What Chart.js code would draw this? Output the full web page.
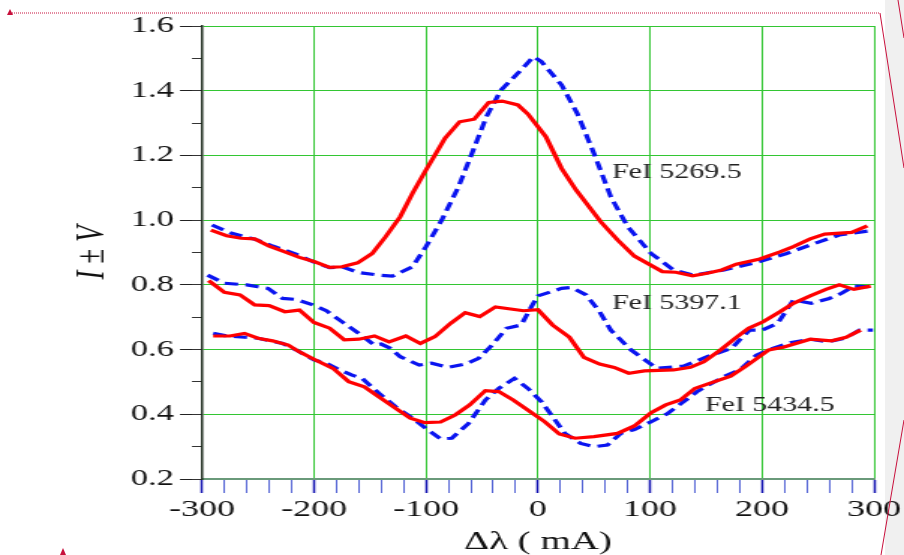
<!DOCTYPE html>
<html>
<head>
<meta charset="utf-8">
<script src="https://cdn.jsdelivr.net/npm/chart.js@4.4.1/dist/chart.umd.min.js"></script>
<style>
    body { margin: 0; background: #fff; }
    #page { position: relative; width: 904px; height: 555px; overflow: hidden; background: #fff; }
    #strip { position: absolute; left: 885px; top: 0; width: 19px; height: 555px; background: #f0f0f0; }
    #wrap { position: absolute; left: 0; top: 0; width: 603px; height: 555px; transform: scaleX(1.4992); transform-origin: 0 0; }
    #deco { position: absolute; left: 0; top: 0; }
</style>
</head>
<body>
<div id="page">
    <div id="strip"></div>
    <div id="wrap"><canvas id="myChart" width="603" height="555"></canvas></div>
    <svg id="deco" width="904" height="555">
        <line x1="10" y1="13" x2="880" y2="13" stroke="#c8103c" stroke-width="1" stroke-dasharray="1 1" />
        <polygon points="7,15 10,9 13,15" fill="#c8103c" />
        <line x1="880" y1="13" x2="904" y2="168" stroke="#c8103c" stroke-width="1" />
        <line x1="898" y1="0" x2="904" y2="38" stroke="#c8103c" stroke-width="1" />
        <line x1="881" y1="555" x2="904" y2="420" stroke="#c8103c" stroke-width="1" />
        <polygon points="60,555 63,548 66,555" fill="#c8103c" />
    </svg>
</div>
<script>

// FeI 5269.5
var x5269Red = [-292, -278, -265, -253, -240, -226, -213, -200, -186, -175, -161, -148, -136, -123, -112, -100, -83, -70, -57, -44, -32, -18, -9, 7, 21, 34, 56, 71, 86, 111, 123, 138, 151, 164, 177, 198, 216, 228, 243, 256, 280, 294];
var y5269Red = [0.969, 0.952, 0.944, 0.942, 0.920, 0.902, 0.885, 0.872, 0.854, 0.856, 0.868, 0.897, 0.949, 1.011, 1.083, 1.155, 1.253, 1.304, 1.312, 1.364, 1.368, 1.356, 1.328, 1.258, 1.160, 1.093, 0.995, 0.939, 0.889, 0.841, 0.839, 0.828, 0.836, 0.846, 0.864, 0.880, 0.902, 0.918, 0.942, 0.957, 0.962, 0.982];
var x5269Blue = [-291, -275, -251, -237, -216, -201, -186, -175, -160, -142, -130, -112, -100, -86, -71, -59, -46, -33, -18, -4, 3, 21, 35, 50, 65, 80, 101, 121, 139, 166, 198, 222, 251, 269, 296];
var y5269Blue = [0.985, 0.961, 0.939, 0.920, 0.895, 0.872, 0.853, 0.856, 0.838, 0.830, 0.827, 0.856, 0.918, 1.000, 1.103, 1.206, 1.320, 1.402, 1.454, 1.505, 1.490, 1.418, 1.330, 1.206, 1.072, 0.980, 0.897, 0.846, 0.830, 0.846, 0.872, 0.897, 0.933, 0.954, 0.967];

// FeI 5397.1
var x5397Red = [-294, -280, -266, -253, -240, -226, -213, -200, -186, -173, -160, -146, -133, -118, -105, -92, -78, -65, -52, -38, -13, 0, 13, 28, 41, 55, 68, 81, 95, 121, 136, 148, 163, 176, 188, 201, 216, 228, 243, 257, 269, 282, 297];
var y5397Red = [0.813, 0.777, 0.769, 0.738, 0.736, 0.717, 0.722, 0.684, 0.666, 0.630, 0.632, 0.642, 0.624, 0.642, 0.619, 0.640, 0.681, 0.714, 0.702, 0.732, 0.720, 0.723, 0.676, 0.638, 0.576, 0.555, 0.545, 0.527, 0.534, 0.537, 0.545, 0.562, 0.599, 0.635, 0.666, 0.686, 0.717, 0.743, 0.766, 0.786, 0.800, 0.786, 0.796];
var x5397Blue = [-295, -280, -260, -250, -241, -228, -216, -201, -189, -175, -160, -146, -140, -132, -123, -106, -95, -80, -65, -53, -41, -28, -15, -6, 0, 21, 30, 43, 55, 65, 83, 106, 130, 151, 173, 180, 189, 200, 214, 228, 244, 260, 271, 282, 296];
var y5397Blue = [0.830, 0.805, 0.800, 0.794, 0.789, 0.758, 0.755, 0.738, 0.720, 0.686, 0.650, 0.614, 0.617, 0.604, 0.578, 0.552, 0.558, 0.545, 0.555, 0.573, 0.614, 0.666, 0.676, 0.732, 0.766, 0.789, 0.792, 0.769, 0.717, 0.660, 0.599, 0.542, 0.549, 0.578, 0.604, 0.630, 0.660, 0.660, 0.681, 0.753, 0.743, 0.758, 0.774, 0.796, 0.794];

// FeI 5434.5
var x5434Red = [-290, -275, -262, -250, -237, -223, -213, -200, -183, -169, -155, -142, -127, -114, -101, -87, -74, -61, -47, -35, -22, -9, 6, 19, 33, 50, 71, 86, 101, 114, 127, 140, 155, 172, 185, 206, 219, 243, 262, 275, 288];
var y5434Red = [0.642, 0.642, 0.650, 0.635, 0.627, 0.614, 0.593, 0.570, 0.542, 0.501, 0.485, 0.454, 0.418, 0.388, 0.374, 0.376, 0.398, 0.429, 0.473, 0.470, 0.444, 0.413, 0.377, 0.339, 0.326, 0.331, 0.341, 0.364, 0.405, 0.429, 0.444, 0.480, 0.498, 0.518, 0.547, 0.599, 0.607, 0.632, 0.627, 0.638, 0.660];
var x5434Blue = [-290, -278, -262, -250, -228, -216, -200, -189, -180, -166, -157, -142, -127, -112, -98, -87, -77, -62, -47, -35, -21, -9, 3, 13, 24, 38, 50, 62, 74, 86, 101, 115, 130, 142, 152, 167, 180, 195, 207, 225, 243, 259, 274, 287, 299];
var y5434Blue = [0.650, 0.642, 0.638, 0.635, 0.619, 0.599, 0.568, 0.558, 0.542, 0.521, 0.511, 0.465, 0.423, 0.388, 0.351, 0.324, 0.326, 0.372, 0.444, 0.480, 0.511, 0.480, 0.439, 0.393, 0.341, 0.310, 0.300, 0.305, 0.341, 0.353, 0.377, 0.401, 0.439, 0.470, 0.490, 0.518, 0.537, 0.583, 0.601, 0.621, 0.632, 0.624, 0.635, 0.660, 0.660];

// line names written inside the plot (left edge of the text, in data units)
var lineNames = ["FeI 5269.5", "FeI 5397.1", "FeI 5434.5"];
var lineNameX = [66, 66, 149];
var lineNameY = [1.147, 0.743, 0.427];

var xMin = -300, xMax = 300, xStep = 20;
var yMin = 0.2, yMax = 1.6, yStep = 0.2, yMinorStep = 0.1;

var serif = "'Liberation Serif', 'Times New Roman', serif";

function toPoints(xs, ys) {
    var pts = [];
    for (var i = 0; i < xs.length; i++) {
        pts.push({ x: xs[i], y: ys[i] });
    }
    return pts;
}

function solid(xs, ys) {
    return { label: 'I + V', data: toPoints(xs, ys), borderColor: '#ff0000', borderWidth: 3.2, pointRadius: 0, fill: false, tension: 0 };
}

function dashed(xs, ys) {
    return { label: 'I - V', data: toPoints(xs, ys), borderColor: '#0a14f0', borderWidth: 3.2, borderDash: [9, 5], pointRadius: 0, fill: false, tension: 0 };
}

var lineNamePlugin = {
    id: 'lineNames',
    afterDatasetsDraw: function (chart) {
        var ctx = chart.ctx;
        var xs = chart.scales.x, ys = chart.scales.y;
        ctx.save();
        ctx.font = '20px ' + serif;
        ctx.fillStyle = '#222';
        ctx.textAlign = 'left';
        ctx.textBaseline = 'middle';
        for (var i = 0; i < lineNames.length; i++) {
            ctx.fillText(lineNames[i], xs.getPixelForValue(lineNameX[i]), ys.getPixelForValue(lineNameY[i]));
        }
        ctx.restore();
    }
};

var ctx = document.getElementById('myChart').getContext('2d');

var myChart = new Chart(ctx, {
    type: 'line',
    data: {
        datasets: [
            solid(x5269Red, y5269Red),
            solid(x5397Red, y5397Red),
            solid(x5434Red, y5434Red),
            dashed(x5269Blue, y5269Blue),
            dashed(x5397Blue, y5397Blue),
            dashed(x5434Blue, y5434Blue)
        ]
    },
    options: {
        responsive: false,
        animation: false,
        layout: { padding: { top: 26, right: 17.7, bottom: 0, left: 0 } },
        plugins: {
            legend: { display: false },
            tooltip: { enabled: false }
        },
        scales: {
            x: {
                type: 'linear',
                min: xMin,
                max: xMax,
                afterFit: function (scale) { scale.height = 76; },
                ticks: {
                    stepSize: xStep,
                    autoSkip: false,
                    maxRotation: 0,
                    padding: 2,
                    color: '#111',
                    font: { family: serif, size: 24 },
                    callback: function (value) {
                        return value % 100 === 0 ? String(value) : '';
                    }
                },
                grid: {
                    color: function (c) { return c.tick && c.tick.value % 100 === 0 ? '#33c633' : 'rgba(0,0,0,0)'; },
                    lineWidth: 1,
                    tickLength: 14,
                    tickColor: function (c) { return c.tick && c.tick.value % 100 === 0 ? '#1010b0' : '#5565d5'; },
                    tickWidth: function (c) { return c.tick && c.tick.value % 100 === 0 ? 1.5 : 1; }
                },
                border: { color: '#6a9a7a', width: 2 },
                title: {
                    display: true,
                    text: 'Δλ ( mA)',
                    color: '#111',
                    font: { family: serif, size: 26 },
                    padding: { top: 0, bottom: -3 }
                }
            },
            y: {
                type: 'linear',
                position: 'left',
                weight: 1,
                min: yMin,
                max: yMax,
                afterFit: function (scale) { scale.width = 134.7; },
                ticks: {
                    stepSize: yStep,
                    autoSkip: false,
                    padding: 4,
                    color: '#111',
                    font: { family: serif, size: 23 },
                    callback: function (value) { return value.toFixed(1); }
                },
                grid: {
                    color: '#33c633',
                    lineWidth: 1,
                    tickLength: 14.7,
                    tickColor: '#222'
                },
                border: { color: '#1c2a1c', width: 1.5 },
                title: {
                    display: true,
                    text: 'I ± V',
                    color: '#111',
                    font: { family: serif, size: 27, style: 'italic' },
                    padding: { top: 46, bottom: 0 }
                }
            },
            // minor ticks on the left axis
            y2: {
                type: 'linear',
                position: 'left',
                weight: 0,
                min: yMin,
                max: yMax,
                afterFit: function (scale) { scale.width = 0; },
                ticks: { stepSize: yMinorStep, autoSkip: false, display: false },
                grid: { drawOnChartArea: false, tickLength: 6.7, tickColor: '#333' },
                border: { display: false }
            }
        }
    },
    plugins: [lineNamePlugin]
});

</script>
</body>
</html>
